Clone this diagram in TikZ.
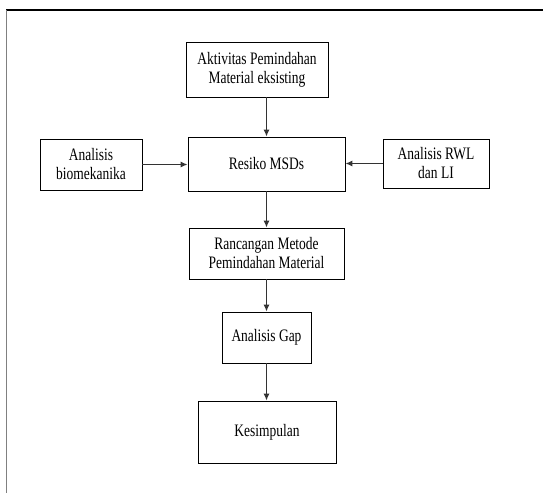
\documentclass[tikz,border=0pt]{standalone}
\usepackage{fontspec}
\setmainfont{Liberation Serif}[FakeStretch=0.77]
\usetikzlibrary{arrows.meta}
\begin{document}
\begin{tikzpicture}[x=1pt,y=-1pt,line cap=butt,line join=miter,
  blok/.style={draw,line width=0.9pt,align=center,inner sep=0pt,
    font=\fontsize{17.5}{19}\selectfont},
  panah/.style={line width=1.1pt,draw=black!80,-{Latex[length=7pt,width=6pt]}}]

\useasboundingbox (0,0) rectangle (543,493);

% frame
\draw[line width=1.2pt] (6,10) -- (543,10);
\draw[line width=1.5pt,gray] (6.5,10) -- (6.5,493);

\node[blok,minimum width=142pt,minimum height=55pt] (akt) at (257,69.5)
  {Aktivitas Pemindahan\\Material eksisting};
\node[blok,minimum width=157pt,minimum height=54pt] (msd) at (266.5,164)
  {Resiko MSDs};
\node[blok,minimum width=102pt,minimum height=51pt] (bio) at (91,164.5)
  {Analisis\\biomekanika};
\node[blok,minimum width=106pt,minimum height=49pt] (rwl) at (436,163.5)
  {Analisis RWL\\dan LI};
\node[blok,minimum width=155pt,minimum height=51pt] (ran) at (266.5,253.5)
  {Rancangan Metode\\Pemindahan Material};
\node[blok,minimum width=89pt,minimum height=51pt] (gap) at (266.5,337.5)
  {Analisis Gap};
\node[blok,minimum width=138pt,minimum height=62pt] (kes) at (267,432)
  {Kesimpulan};

\draw[panah] (akt.south -| msd.north) -- (msd.north);
\draw[panah] (bio.east) -- (bio.east -| msd.west);
\draw[panah] (rwl.west) -- (rwl.west -| msd.east);
\draw[panah] (msd.south) -- (ran.north);
\draw[panah] (ran.south) -- (gap.north);
\draw[panah] (gap.south) -- (gap.south |- kes.north);
\end{tikzpicture}
\end{document}
